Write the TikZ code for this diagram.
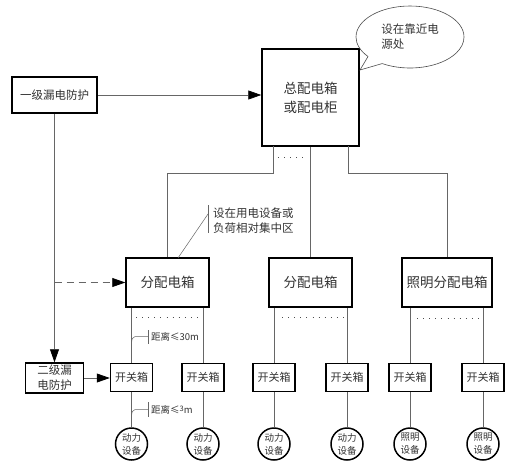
\documentclass[tikz,border=0pt]{standalone}
\usepackage{fontspec}
\newfontfamily\cjk{Noto Sans CJK SC}
\usetikzlibrary{arrows.meta,shapes.callouts}
\begin{document}
\begin{tikzpicture}[x=1pt,y=-1pt,
  font=\cjk,
  box/.style={draw=black, line width=1.5pt, text=black!80, inner sep=0pt, align=center},
  bigtxt/.style={font=\cjk\fontsize{13.5}{19}\selectfont},
  midtxt/.style={font=\cjk\fontsize{11.5}{15}\selectfont},
  swbox/.style={box, minimum width=42pt, minimum height=28pt, font=\cjk\fontsize{11}{13}\selectfont},
  dev/.style={circle, draw=black, line width=1.5pt, minimum size=32pt, inner sep=0pt, align=center, text=black!80, font=\cjk\fontsize{9.5}{13}\selectfont},
  conn/.style={draw=black!60, line width=0.7pt},
  arr/.style={conn, -{Triangle[length=13pt,width=9pt,color=black]}},
  dotrow/.style={draw=black!70, line width=0.9pt, dash pattern=on 0.9pt off 5.2pt},
  ann/.style={text=black!80, font=\cjk\fontsize{11.5}{15}\selectfont, align=left, inner sep=0pt},
  smallann/.style={text=black!80, font=\cjk\fontsize{9.5}{11}\selectfont, inner sep=0pt}
]
\useasboundingbox (0,0) rectangle (519,469);

% main box and callout
\node[box, bigtxt, minimum width=97pt, minimum height=97pt] (main) at (310.5,97.5) {总配电箱\\或配电柜};
\node[ellipse callout, draw=black!70, line width=0.6pt, minimum width=108pt, minimum height=62pt,
      callout absolute pointer={(360,70)}, callout pointer arc=20,
      ann] (note) at (410,37) {设在靠近电\\源处};

% leakage protection boxes
\node[box, midtxt, minimum width=85pt, minimum height=36pt] (p1) at (54.5,95) {一级漏电防护};
\node[box, midtxt, minimum width=58pt, minimum height=30pt] (p2) at (54.5,378) {二级漏\\电防护};

% distribution boxes
\node[box, bigtxt, minimum width=83pt, minimum height=49pt] (d1) at (167.5,282.5) {分配电箱};
\node[box, bigtxt, minimum width=83pt, minimum height=49pt] (d2) at (310.5,282.5) {分配电箱};
\node[box, bigtxt, minimum width=90pt, minimum height=49pt] (d3) at (447,282.5) {照明分配电箱};

% switch boxes
\node[swbox] (s1) at (131.5,377.5) {开关箱};
\node[swbox] (s2) at (203,377.5) {开关箱};
\node[swbox] (s3) at (274,377.5) {开关箱};
\node[swbox] (s4) at (347,377.5) {开关箱};
\node[swbox] (s5) at (410,377.5) {开关箱};
\node[swbox] (s6) at (483,377.5) {开关箱};

% devices
\node[dev] (c1) at (131.5,444) {动力\\设备};
\node[dev] (c2) at (203,444) {动力\\设备};
\node[dev] (c3) at (274,444) {动力\\设备};
\node[dev] (c4) at (347,444) {动力\\设备};
\node[dev] (c5) at (410,444) {照明\\设备};
\node[dev] (c6) at (483,444) {照明\\设备};

% main -> distribution
\coordinate (mL) at (273,146);
\coordinate (mR) at (348,146);
\draw[conn] (mL) |- (167.5,173) -- (d1.north);
\draw[conn] (main.south) -- (d2.north);
\draw[conn] (mR) |- (447,173) -- (d3.north);
\coordinate (md1) at (278,157);
\coordinate (md2) at (306,157);
\draw[dotrow] (md1) -- (md2);

% protection arrows
\draw[arr] (p1.east) -- (p1.east -| main.west);
\draw[arr] (p1.south) -- (p2.north);
\coordinate (dsrc) at (p1.south |- d1.west);
\draw[arr, dash pattern=on 7pt off 5pt] (dsrc) -- (d1.west);
\draw[arr] (p2.east) -- (p2.east -| s1.west);

% distribution -> switch boxes
\foreach \s/\d in {s1/d1,s2/d1,s3/d2,s4/d2,s5/d3,s6/d3}{
  \draw[conn] (\s.north |- \d.south) -- (\s.north);
}
\foreach \s/\c in {s1/c1,s2/c2,s3/c3,s4/c4,s5/c5,s6/c6}{
  \draw[conn] (\s.south) -- (\c.north);
}
\coordinate (r1a) at (136,317); \coordinate (r1b) at (200,317);
\coordinate (r2a) at (282,317); \coordinate (r2b) at (345,317);
\coordinate (r3a) at (417,318); \coordinate (r3b) at (481,318);
\draw[dotrow] (r1a) -- (r1b);
\draw[dotrow] (r2a) -- (r2b);
\draw[dotrow] (r3a) -- (r3b);

% annotation for distribution box
\coordinate (a1) at (178,258);
\coordinate (a2) at (208,214);
\draw[conn, line width=0.5pt] (a1) -- (a2);
\draw[conn] (208,205) -- (208,233);
\node[ann, anchor=west] (t1) at (213,220.5) {设在用电设备或\\负荷相对集中区};

% distance annotations
\draw[conn, line width=0.5pt] (131.5,344) .. controls (132,338) .. (135,336.5) -- (148,336.5);
\draw[conn] (148,330) -- (148,344);
\node[smallann, anchor=west] (t2) at (151,337) {距离≤30m};
\draw[conn, line width=0.5pt] (131.5,417) .. controls (132,411) .. (135,409.5) -- (148,409.5);
\draw[conn] (148,402) -- (148,417);
\node[smallann, anchor=west] (t3) at (151,410) {距离≤\raisebox{2pt}{\fontsize{7.5}{9}\selectfont 3}m};
\end{tikzpicture}
\end{document}
